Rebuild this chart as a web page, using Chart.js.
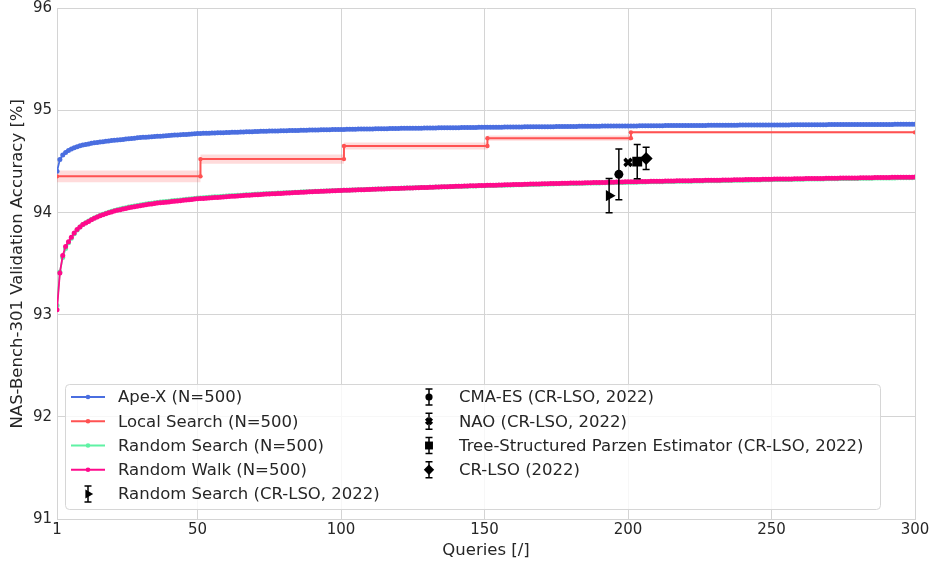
<!DOCTYPE html>
<html><head><meta charset="utf-8">
<script src="https://cdn.jsdelivr.net/npm/chart.js@4.4.0/dist/chart.umd.min.js"></script>
<style>html,body{margin:0;padding:0;background:#fff;}#wrap{width:931px;height:563px;}</style>
</head><body><div id="wrap"><canvas id="c" width="931" height="563"></canvas></div>
<script>
// ---------- DATA ----------
const xTicks = [1, 50, 100, 150, 200, 250, 300];
const yTicks = [91, 92, 93, 94, 95, 96];
const queries = Array.from({length: 300}, (_, i) => i + 1);

const seriesNames = ["Ape-X (N=500)", "Local Search (N=500)", "Random Search (N=500)", "Random Walk (N=500)"];

const apeX = [
94.405,94.520,94.565,94.590,94.610,94.625,94.637,94.647,94.655,94.662,
94.668,94.674,94.679,94.684,94.688,94.692,94.696,94.700,94.703,94.706,
94.709,94.712,94.715,94.718,94.721,94.724,94.727,94.730,94.733,94.736,
94.738,94.740,94.742,94.744,94.746,94.748,94.750,94.752,94.754,94.756,
94.758,94.760,94.762,94.764,94.765,94.767,94.769,94.771,94.773,94.775,
94.776,94.777,94.778,94.779,94.780,94.781,94.782,94.783,94.784,94.785,
94.786,94.787,94.788,94.789,94.790,94.791,94.792,94.793,94.794,94.795,
94.796,94.797,94.797,94.798,94.799,94.800,94.800,94.801,94.802,94.803,
94.803,94.804,94.805,94.806,94.806,94.807,94.808,94.808,94.809,94.810,
94.810,94.811,94.812,94.812,94.813,94.813,94.814,94.815,94.815,94.816,
94.816,94.817,94.817,94.818,94.818,94.819,94.819,94.820,94.820,94.821,
94.821,94.822,94.822,94.823,94.823,94.823,94.824,94.824,94.825,94.825,
94.826,94.826,94.826,94.827,94.827,94.828,94.828,94.828,94.829,94.829,
94.830,94.830,94.830,94.831,94.831,94.831,94.832,94.832,94.833,94.833,
94.833,94.834,94.834,94.834,94.835,94.835,94.835,94.836,94.836,94.836,
94.837,94.837,94.837,94.838,94.838,94.838,94.839,94.839,94.839,94.840,
94.840,94.840,94.840,94.841,94.841,94.841,94.842,94.842,94.842,94.842,
94.843,94.843,94.843,94.843,94.844,94.844,94.844,94.844,94.845,94.845,
94.845,94.845,94.846,94.846,94.846,94.846,94.847,94.847,94.847,94.847,
94.848,94.848,94.848,94.848,94.849,94.849,94.849,94.849,94.850,94.850,
94.850,94.850,94.850,94.851,94.851,94.851,94.851,94.852,94.852,94.852,
94.852,94.852,94.853,94.853,94.853,94.853,94.853,94.854,94.854,94.854,
94.854,94.854,94.855,94.855,94.855,94.855,94.855,94.856,94.856,94.856,
94.856,94.856,94.856,94.857,94.857,94.857,94.857,94.857,94.858,94.858,
94.858,94.858,94.858,94.858,94.859,94.859,94.859,94.859,94.859,94.859,
94.860,94.860,94.860,94.860,94.860,94.860,94.861,94.861,94.861,94.861,
94.861,94.861,94.861,94.862,94.862,94.862,94.862,94.862,94.862,94.863,
94.863,94.863,94.863,94.863,94.863,94.863,94.864,94.864,94.864,94.864,
94.864,94.864,94.864,94.864,94.865,94.865,94.865,94.865,94.865,94.865,
94.865,94.865,94.866,94.866,94.866,94.866,94.866,94.866,94.866,94.867
];

const randomWalk = [
93.050,93.410,93.580,93.670,93.715,93.760,93.800,93.835,93.860,93.885,
93.900,93.915,93.930,93.945,93.958,93.970,93.980,93.990,94.000,94.008,
94.016,94.023,94.030,94.036,94.042,94.048,94.054,94.059,94.064,94.069,
94.074,94.078,94.082,94.086,94.090,94.094,94.097,94.100,94.103,94.106,
94.109,94.112,94.115,94.118,94.121,94.124,94.127,94.130,94.133,94.136,
94.138,94.140,94.142,94.144,94.146,94.148,94.150,94.152,94.154,94.156,
94.158,94.160,94.162,94.164,94.166,94.168,94.170,94.172,94.173,94.175,
94.177,94.179,94.180,94.182,94.183,94.185,94.186,94.188,94.189,94.191,
94.192,94.194,94.195,94.197,94.198,94.200,94.201,94.203,94.204,94.205,
94.207,94.208,94.209,94.211,94.212,94.213,94.215,94.216,94.217,94.218,
94.219,94.220,94.221,94.222,94.223,94.224,94.225,94.226,94.227,94.228,
94.229,94.230,94.231,94.232,94.233,94.234,94.235,94.236,94.237,94.238,
94.239,94.240,94.241,94.242,94.243,94.244,94.245,94.246,94.247,94.248,
94.249,94.250,94.251,94.252,94.253,94.254,94.255,94.256,94.257,94.258,
94.259,94.260,94.261,94.262,94.263,94.264,94.265,94.266,94.266,94.267,
94.268,94.269,94.270,94.270,94.271,94.272,94.273,94.274,94.274,94.275,
94.276,94.277,94.277,94.278,94.279,94.280,94.280,94.281,94.282,94.283,
94.283,94.284,94.285,94.285,94.286,94.287,94.288,94.288,94.289,94.290,
94.290,94.291,94.292,94.292,94.293,94.294,94.294,94.295,94.296,94.296,
94.297,94.297,94.298,94.299,94.299,94.300,94.300,94.301,94.302,94.302,
94.303,94.303,94.304,94.305,94.305,94.306,94.306,94.307,94.307,94.308,
94.308,94.309,94.310,94.310,94.311,94.311,94.312,94.312,94.313,94.313,
94.314,94.314,94.315,94.315,94.316,94.316,94.317,94.317,94.318,94.318,
94.319,94.319,94.320,94.320,94.321,94.321,94.322,94.322,94.323,94.323,
94.324,94.324,94.325,94.325,94.326,94.326,94.327,94.327,94.328,94.328,
94.329,94.329,94.330,94.330,94.331,94.331,94.331,94.332,94.332,94.333,
94.333,94.334,94.334,94.335,94.335,94.335,94.336,94.336,94.337,94.337,
94.338,94.338,94.338,94.339,94.339,94.340,94.340,94.340,94.341,94.341,
94.342,94.342,94.342,94.343,94.343,94.344,94.344,94.344,94.345,94.345,
94.345,94.346,94.346,94.347,94.347,94.347,94.348,94.348,94.348,94.349
];

const randomSearch = [
93.090,93.420,93.560,93.650,93.705,93.750,93.795,93.830,93.860,93.885,
93.902,93.918,93.933,93.948,93.961,93.973,93.984,93.994,94.004,94.013,
94.021,94.029,94.036,94.043,94.049,94.055,94.061,94.066,94.071,94.076,
94.081,94.085,94.089,94.093,94.097,94.101,94.104,94.107,94.110,94.113,
94.116,94.119,94.122,94.125,94.128,94.131,94.134,94.137,94.140,94.143,
94.145,94.147,94.149,94.151,94.153,94.155,94.157,94.159,94.161,94.163,
94.165,94.167,94.168,94.170,94.172,94.174,94.175,94.177,94.179,94.180,
94.182,94.183,94.185,94.186,94.188,94.189,94.191,94.192,94.193,94.195,
94.196,94.197,94.199,94.200,94.201,94.203,94.204,94.205,94.206,94.207,
94.209,94.210,94.211,94.212,94.213,94.214,94.216,94.217,94.218,94.219,
94.220,94.221,94.222,94.223,94.224,94.225,94.226,94.227,94.228,94.229,
94.230,94.231,94.232,94.233,94.234,94.235,94.236,94.237,94.238,94.239,
94.240,94.241,94.242,94.243,94.244,94.245,94.246,94.246,94.247,94.248,
94.249,94.250,94.251,94.252,94.252,94.253,94.254,94.255,94.256,94.257,
94.258,94.258,94.259,94.260,94.261,94.262,94.262,94.263,94.264,94.265,
94.266,94.266,94.267,94.268,94.269,94.269,94.270,94.271,94.272,94.272,
94.273,94.274,94.274,94.275,94.276,94.277,94.277,94.278,94.279,94.279,
94.280,94.281,94.281,94.282,94.283,94.283,94.284,94.285,94.285,94.286,
94.287,94.287,94.288,94.288,94.289,94.290,94.290,94.291,94.291,94.292,
94.293,94.293,94.294,94.294,94.295,94.295,94.296,94.297,94.297,94.298,
94.298,94.299,94.299,94.300,94.300,94.301,94.302,94.302,94.303,94.303,
94.304,94.304,94.305,94.305,94.306,94.306,94.307,94.307,94.308,94.308,
94.309,94.309,94.310,94.310,94.311,94.311,94.312,94.312,94.313,94.313,
94.314,94.314,94.315,94.315,94.316,94.316,94.317,94.317,94.318,94.318,
94.319,94.319,94.320,94.320,94.321,94.321,94.322,94.322,94.323,94.323,
94.324,94.324,94.325,94.325,94.325,94.326,94.326,94.327,94.327,94.328,
94.328,94.329,94.329,94.330,94.330,94.330,94.331,94.331,94.332,94.332,
94.333,94.333,94.333,94.334,94.334,94.335,94.335,94.335,94.336,94.336,
94.337,94.337,94.337,94.338,94.338,94.339,94.339,94.339,94.340,94.340,
94.340,94.341,94.341,94.342,94.342,94.342,94.343,94.343,94.343,94.344
];

// Local Search: stepped mean with std band
const localSearchX   = [1, 51, 51, 101, 101, 151, 151, 201, 201, 300];
const localSearchY   = [94.356, 94.356, 94.525, 94.525, 94.653, 94.653, 94.730, 94.730, 94.787, 94.787];
const localSearchErr = [0.058, 0.058, 0.045, 0.045, 0.035, 0.035, 0.025, 0.025, 0.010, 0.010];

// Reference results (CR-LSO, 2022) with error bars
const refNames = ["Random Search (CR-LSO, 2022)", "CMA-ES (CR-LSO, 2022)", "NAO (CR-LSO, 2022)", "Tree-Structured Parzen Estimator (CR-LSO, 2022)", "CR-LSO (2022)"];
const refX   = [193.4, 196.8, 200.0, 203.2, 206.3];
const refY   = [94.167, 94.376, 94.493, 94.500, 94.532];
const refErr = [0.167, 0.248, 0.010, 0.168, 0.110];

// ---------- STYLES ----------
const colors = { apeX: '#4a6ee0', local: '#ff5252', search: '#5ff2a4', walk: '#ff0a8c', band: 'rgba(255,90,90,0.22)' };
const refStyles = [
  {pointStyle: 'triangle', radius: 6.5, rotation: 90, borderWidth: 0},
  {pointStyle: 'circle', radius: 4.5, rotation: 0, borderWidth: 0},
  {pointStyle: 'crossRot', radius: 5, rotation: 0, borderWidth: 3.5},
  {pointStyle: 'rect', radius: 7, rotation: 0, borderWidth: 0},
  {pointStyle: 'rectRot', radius: 6.5, rotation: 0, borderWidth: 0}
];
const FONT = '"DejaVu Sans", sans-serif';
const labelSize = 16.5, tickSize = 15;

Chart.defaults.font.family = FONT;
Chart.defaults.font.size = tickSize;
Chart.defaults.color = '#262626';

const toPts = (xs, ys) => xs.map((x, i) => ({x: x, y: ys[i]}));

const lineDs = (label, ys, color, order) => ({
  type: 'line', label, data: toPts(queries, ys), borderColor: color, backgroundColor: color,
  borderWidth: 1.8, pointRadius: 2.5, pointBorderWidth: 0, pointBackgroundColor: color,
  fill: false, tension: 0, order
});

const datasets = [
  lineDs(seriesNames[0], apeX, colors.apeX, 2),
  {type: 'line', label: seriesNames[1], data: toPts(localSearchX, localSearchY), borderColor: colors.local,
   backgroundColor: colors.local, borderWidth: 2, pointRadius: 2.2, pointBorderWidth: 0,
   pointBackgroundColor: colors.local, fill: false, tension: 0, order: 3},
  {type: 'line', label: '_upper', data: toPts(localSearchX, localSearchY.map((v, i) => v + localSearchErr[i])),
   borderWidth: 0, pointRadius: 0, fill: false, order: 7},
  {type: 'line', label: '_lower', data: toPts(localSearchX, localSearchY.map((v, i) => v - localSearchErr[i])),
   borderWidth: 0, pointRadius: 0, fill: 2, backgroundColor: colors.band, order: 6},
  lineDs(seriesNames[2], randomSearch, colors.search, 5),
  lineDs(seriesNames[3], randomWalk, colors.walk, 4)
];
refNames.forEach((name, i) => {
  const s = refStyles[i];
  datasets.push({
    type: 'scatter', label: name, data: [{x: refX[i], y: refY[i]}], errY: [refErr[i]],
    pointStyle: s.pointStyle, pointRadius: s.radius, pointRotation: s.rotation,
    pointBackgroundColor: '#000', pointBorderColor: '#000', pointBorderWidth: s.borderWidth,
    showLine: false, order: 0
  });
});

const errorBarPlugin = {
  id: 'errorBars',
  beforeDatasetDraw(chart, args) {
    const ds = chart.data.datasets[args.index];
    if (!ds.errY) return;
    const {ctx, scales: {x, y}} = chart;
    ctx.save();
    ctx.strokeStyle = '#000';
    ctx.lineWidth = 1.5;
    ds.data.forEach((p, i) => {
      const px = x.getPixelForValue(p.x);
      const top = y.getPixelForValue(p.y + ds.errY[i]);
      const bot = y.getPixelForValue(p.y - ds.errY[i]);
      ctx.beginPath();
      ctx.moveTo(px, top); ctx.lineTo(px, bot);
      ctx.moveTo(px - 3.5, top); ctx.lineTo(px + 3.5, top);
      ctx.moveTo(px - 3.5, bot); ctx.lineTo(px + 3.5, bot);
      ctx.stroke();
    });
    ctx.restore();
  }
};

const legendPlugin = {
  id: 'mplLegend',
  afterDraw(chart) {
    const {ctx, chartArea: ca} = chart;
    const x0 = ca.left + 8, y0 = ca.bottom - 135, w = 815, h = 125;
    ctx.save();
    ctx.fillStyle = 'rgba(255,255,255,0.8)';
    ctx.strokeStyle = '#d6d6d6';
    ctx.lineWidth = 1;
    ctx.beginPath();
    ctx.roundRect(x0 + 0.5, y0 + 0.5, w, h, 4);
    ctx.fill(); ctx.stroke();
    ctx.font = labelSize + 'px ' + FONT;
    ctx.textBaseline = 'middle';
    ctx.textAlign = 'left';
    const rowY = r => y0 + 13 + r * 24.25;
    const lineItems = [
      {label: seriesNames[0], color: colors.apeX},
      {label: seriesNames[1], color: colors.local},
      {label: seriesNames[2], color: colors.search},
      {label: seriesNames[3], color: colors.walk}
    ];
    lineItems.forEach((it, r) => {
      const yy = rowY(r);
      ctx.strokeStyle = it.color; ctx.lineWidth = 1.8;
      ctx.beginPath(); ctx.moveTo(x0 + 6, yy); ctx.lineTo(x0 + 40, yy); ctx.stroke();
      ctx.fillStyle = it.color;
      ctx.beginPath(); ctx.arc(x0 + 23, yy, 2.3, 0, Math.PI * 2); ctx.fill();
      ctx.fillStyle = '#262626';
      ctx.fillText(it.label, x0 + 53, yy + 1);
    });
    const drawErrItem = (i, mx, yy, tx) => {
      ctx.strokeStyle = '#000'; ctx.lineWidth = 1.5;
      ctx.beginPath();
      ctx.moveTo(mx, yy - 8); ctx.lineTo(mx, yy + 8);
      ctx.moveTo(mx - 3.5, yy - 8); ctx.lineTo(mx + 3.5, yy - 8);
      ctx.moveTo(mx - 3.5, yy + 8); ctx.lineTo(mx + 3.5, yy + 8);
      ctx.stroke();
      const s = refStyles[i];
      ctx.fillStyle = '#000'; ctx.strokeStyle = '#000';
      ctx.lineWidth = s.borderWidth || 1;
      Chart.helpers.drawPoint(ctx, {pointStyle: s.pointStyle, radius: s.radius * 0.8, rotation: s.rotation, borderWidth: s.borderWidth}, mx, yy);
      ctx.fillStyle = '#262626';
      ctx.fillText(refNames[i], tx, yy + 1);
    };
    drawErrItem(0, x0 + 23, rowY(4), x0 + 53);
    for (let i = 1; i < 5; i++) drawErrItem(i, x0 + 364, rowY(i - 1), x0 + 394);
    ctx.restore();
  }
};

new Chart(document.getElementById('c'), {
  type: 'line',
  data: {datasets},
  plugins: [errorBarPlugin, legendPlugin],
  options: {
    responsive: false, animation: false, devicePixelRatio: 1,
    layout: {padding: {left: 0, right: 16, top: 8, bottom: 0}},
    plugins: {legend: {display: false}, tooltip: {enabled: false}},
    elements: {line: {borderCapStyle: 'butt'}},
    scales: {
      x: {
        type: 'linear', min: 1, max: 300,
        afterBuildTicks: s => { s.ticks = xTicks.map(v => ({value: v})); },
        afterFit: s => { s.height = 44; s.paddingLeft = 0; s.paddingRight = 0; },
        ticks: {padding: 4, font: {size: tickSize, lineHeight: 1}, color: '#262626', maxRotation: 0, autoSkip: false},
        grid: {color: '#d4d4d4', lineWidth: 1, drawTicks: false},
        border: {color: '#d4d4d4'},
        title: {display: true, text: 'Queries [/]', font: {size: labelSize}, color: '#262626', padding: {top: 0, bottom: 2}}
      },
      y: {
        type: 'linear', min: 91, max: 96,
        afterBuildTicks: s => { s.ticks = yTicks.map(v => ({value: v})); },
        afterFit: s => { s.width = 57; s.paddingTop = 0; s.paddingBottom = 0; },
        ticks: {padding: 5, font: {size: tickSize, lineHeight: 1}, color: '#262626'},
        grid: {color: '#d4d4d4', lineWidth: 1, drawTicks: false},
        border: {color: '#d4d4d4'},
        title: {display: true, text: 'NAS-Bench-301 Validation Accuracy [%]', font: {size: labelSize}, color: '#262626', padding: {top: 8, bottom: 0}}
      }
    }
  }
});
</script>
</body></html>
